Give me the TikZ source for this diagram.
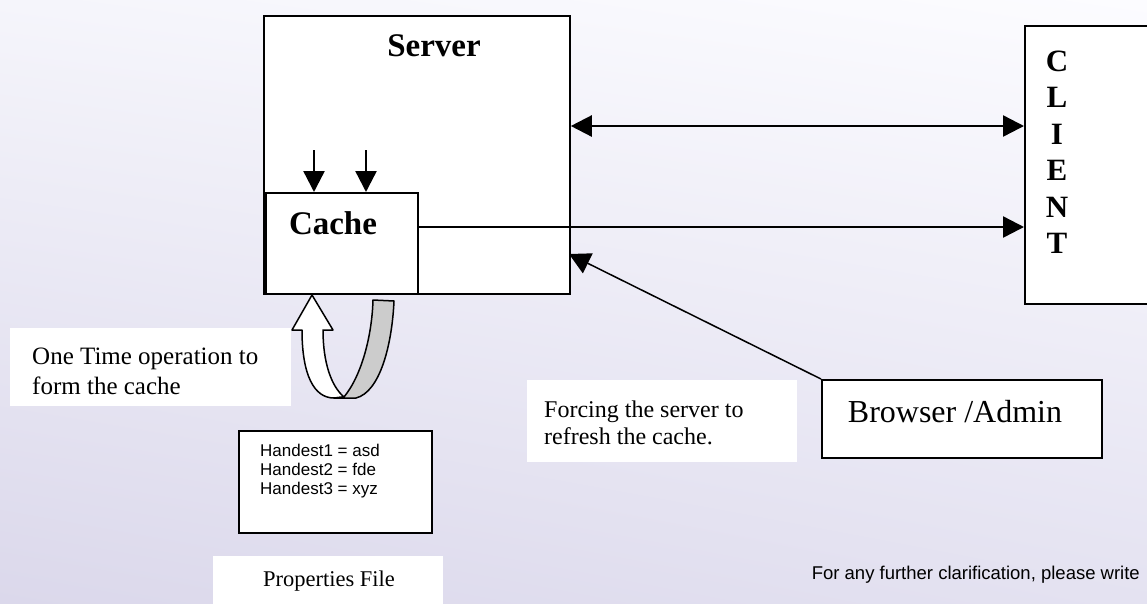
\documentclass[tikz,border=0pt]{standalone}
\usepackage{fontspec}
\setmainfont{Liberation Serif}
\newfontfamily\arialfont{Liberation Sans}
\usetikzlibrary{arrows.meta,shadings}
\definecolor{bgUL}{RGB}{245,245,251}
\definecolor{bgUR}{RGB}{252,252,255}
\definecolor{bgLL}{RGB}{219,216,235}
\definecolor{bgLR}{RGB}{228,226,241}
\definecolor{ribbon}{RGB}{204,204,204}
\begin{document}
\begin{tikzpicture}[x=1pt,y=-1pt,
  box/.style={draw=black, fill=white, rectangle, inner sep=0pt, anchor=north west},
  note/.style={fill=white, rectangle, inner sep=0pt, anchor=north west},
  lbl/.style={inner sep=0pt},
  bigbold/.style={font=\bfseries\fontsize{33}{38}\selectfont},
  arr/.style={line width=2.4pt, -{Triangle[length=21pt,width=21pt]}},
  dblarr/.style={line width=2.4pt, {Triangle[length=21pt,width=21pt]}-{Triangle[length=21pt,width=21pt]}},
  thinarr/.style={line width=1.5pt, -{Triangle[length=21pt,width=22pt]}},
]
\useasboundingbox (0,0) rectangle (1147,603);
\shade[upper left=bgUL, upper right=bgUR, lower left=bgLL, lower right=bgLR] (0,0) rectangle (1147,603);

% Server
\node[box, line width=1.8pt, minimum width=306pt, minimum height=278pt] (server) at (263,15) {};
\node[lbl, bigbold] (servertxt) at (434,46) {Server};

% Cache
\node[box, line width=2.4pt, minimum width=152pt, minimum height=101pt] (cache) at (265,192) {};
\node[lbl, bigbold] (cachetxt) at (333,223) {Cache};

% Down arrows into the cache
\coordinate (d1) at (314,150);
\coordinate (d2) at (366,150);
\draw[arr] (d1) -- (d1 |- cache.north);
\draw[arr] (d2) -- (d2 |- cache.north);

% Client (cut at the right edge)
\begin{scope}
\clip (0,0) rectangle (1147,603);
\node[box, line width=2pt, minimum width=150pt, minimum height=278pt] (client) at (1024,25) {};
\end{scope}
\node[lbl, font=\bfseries\fontsize{31}{36.5}\selectfont, align=center] (clienttxt) at (1057,152) {C\\L\\I\\E\\N\\T};

% Connectors server <-> client, cache -> client
\coordinate (ya) at (0,126);
\coordinate (yb) at (0,227);
\draw[dblarr] (server.east |- ya) -- (client.west |- ya);
\draw[arr] (cache.east |- yb) -- (client.west |- yb);

% Browser / Admin
\node[box, line width=1.8pt, minimum width=280pt, minimum height=78pt] (browser) at (821,379) {};
\node[lbl, font=\fontsize{32}{36}\selectfont] (browsertxt) at (955,412) {Browser /Admin};
\coordinate (srvin) at (569,254);
\draw[thinarr] (browser.north west) -- (srvin);

% Note: forcing
\node[note, minimum width=270pt, minimum height=82pt] (forcebox) at (527,380) {};
\node[lbl, anchor=west, align=left, font=\fontsize{24}{27}\selectfont] (forcetxt) at (544,423) {Forcing the server to\\refresh the cache.};

% Note: one time operation
\node[note, minimum width=281pt, minimum height=78pt] (onebox) at (10,328) {};
\node[lbl, anchor=west, align=left, font=\fontsize{25}{30}\selectfont] (onetxt) at (32,371) {One Time operation to\\form the cache};

% U-turn arrow (white front, grey back)
\draw[fill=white, line width=1.5pt, line join=round]
  (323,330) -- (333,330) -- (312,295) -- (292,330) -- (302,330)
  .. controls (302,375) and (314,398) .. (334,398) -- (344,397)
  .. controls (331,386) and (323,362) .. (323,330) -- cycle;
\draw[fill=ribbon, line width=1.5pt, line join=round]
  (344,397) .. controls (362,375) and (372,335) .. (373,300)
  -- (394,301) .. controls (392,345) and (380,392) .. (356,398)
  -- (334,398) -- cycle;

% Properties
\node[box, line width=2.2pt, minimum width=193pt, minimum height=102pt] (props) at (238,430) {};
\node[lbl, anchor=west, align=left, font=\arialfont\fontsize{17}{19}\selectfont] (propstxt) at (260,471) {Handest1 = asd\\Handest2 = fde\\Handest3 = xyz};

\node[note, minimum width=230pt, minimum height=50pt] (propfilebox) at (213,556) {};
\node[lbl, font=\fontsize{22.5}{26}\selectfont] (propfiletxt) at (329,581) {Properties File};

% Footer
\node[lbl, anchor=east, font=\arialfont\fontsize{18.5}{22}\selectfont] (footer) at (1140,575) {For any further clarification, please write};
\end{tikzpicture}
\end{document}
